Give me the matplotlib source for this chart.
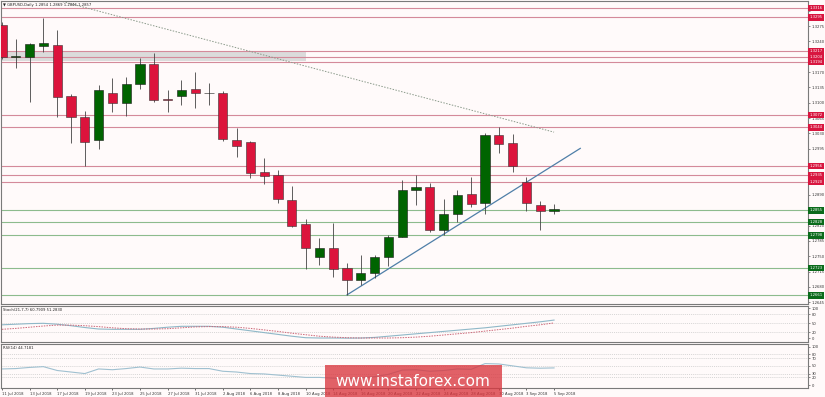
import matplotlib
matplotlib.use('Agg')
import matplotlib.pyplot as plt
import matplotlib.transforms as mtransforms
from matplotlib.patches import Rectangle
import numpy as np

# ---------------- data ----------------
dates = ["11 Jul 2018", "12 Jul 2018", "13 Jul 2018", "16 Jul 2018", "17 Jul 2018",
         "18 Jul 2018", "19 Jul 2018", "20 Jul 2018", "23 Jul 2018", "24 Jul 2018",
         "25 Jul 2018", "26 Jul 2018", "27 Jul 2018", "30 Jul 2018", "31 Jul 2018",
         "1 Aug 2018", "2 Aug 2018", "3 Aug 2018", "6 Aug 2018", "7 Aug 2018",
         "8 Aug 2018", "9 Aug 2018", "10 Aug 2018", "13 Aug 2018", "14 Aug 2018",
         "15 Aug 2018", "16 Aug 2018", "17 Aug 2018", "20 Aug 2018", "21 Aug 2018",
         "22 Aug 2018", "23 Aug 2018", "24 Aug 2018", "27 Aug 2018", "28 Aug 2018",
         "29 Aug 2018", "30 Aug 2018", "31 Aug 2018", "3 Sep 2018", "4 Sep 2018",
         "5 Sep 2018"]

opens  = [1.3277, 1.3205, 1.3205, 1.3230, 1.3232, 1.3115, 1.3067, 1.3014, 1.3122, 1.3099,
          1.3143, 1.3188, 1.3108, 1.3115, 1.3131, 1.3122, 1.3122, 1.3015, 1.3010, 1.2942,
          1.2935, 1.2878, 1.2823, 1.2749, 1.2770, 1.2723, 1.2696, 1.2711, 1.2748, 1.2795,
          1.2900, 1.2907, 1.2811, 1.2846, 1.2891, 1.2871, 1.3026, 1.3009, 1.2919, 1.2868,
          1.2854]
highs  = [1.3284, 1.3245, 1.3237, 1.3293, 1.3267, 1.3120, 1.3082, 1.3140, 1.3156, 1.3159,
          1.3201, 1.3213, 1.3129, 1.3152, 1.3171, 1.3144, 1.3127, 1.3042, 1.3013, 1.2973,
          1.2947, 1.2910, 1.2836, 1.2791, 1.2825, 1.2734, 1.2753, 1.2753, 1.2799, 1.2924,
          1.2935, 1.2916, 1.2880, 1.2901, 1.2930, 1.3032, 1.3045, 1.3029, 1.2931, 1.2876,
          1.2869]
lows   = [1.3200, 1.3180, 1.3102, 1.3216, 1.3068, 1.3009, 1.2956, 1.2994, 1.3080, 1.3070,
          1.3131, 1.3102, 1.3080, 1.3096, 1.3089, 1.3095, 1.3013, 1.2976, 1.2928, 1.2915,
          1.2871, 1.2817, 1.2721, 1.2729, 1.2703, 1.2662, 1.2684, 1.2700, 1.2728, 1.2793,
          1.2868, 1.2805, 1.2798, 1.2829, 1.2862, 1.2846, 1.2985, 1.2943, 1.2854, 1.2810,
          1.2846]
closes = [1.3204, 1.3206, 1.3234, 1.3236, 1.3114, 1.3068, 1.3011, 1.3129, 1.3100, 1.3143,
          1.3188, 1.3106, 1.3106, 1.3129, 1.3122, 1.3123, 1.3017, 1.3001, 1.2940, 1.2932,
          1.2881, 1.2819, 1.2770, 1.2768, 1.2721, 1.2696, 1.2713, 1.2748, 1.2795, 1.2900,
          1.2909, 1.2811, 1.2846, 1.2890, 1.2869, 1.3026, 1.3007, 1.2956, 1.2871, 1.2854,
          1.2857]

stoch_main = [45, 47, 49, 50, 47, 42, 36, 31, 30, 30, 30, 33, 37, 40, 40, 40, 37, 31, 25, 19,
              13, 7, 2, 1, 1, 0.5, 1, 3, 7, 11, 15, 19, 23, 27, 31, 35, 40, 45, 50, 55, 60.79]
stoch_signal = [30, 33, 37, 41, 44, 44, 42, 39, 35, 32, 31, 31, 32, 35, 38, 39, 39, 37, 33, 28,
                23, 17, 12, 7, 4, 2, 1, 1, 1, 2, 4, 7, 11, 15, 19, 24, 29, 34, 40, 45, 51.28]
rsi = [42, 43, 46, 48, 38, 34, 30, 42, 40, 43, 47, 42, 42, 44, 43, 43, 36, 34, 30, 29,
       26, 23, 20, 20, 18, 17, 19, 22, 28, 39, 40, 36, 38, 42, 41, 56, 55, 50, 45, 44, 44.72]

red_levels = [1.3316, 1.3295, 1.3217, 1.3204, 1.3194, 1.3072, 1.3044, 1.2956, 1.2935, 1.2920]
green_levels = [1.2855, 1.2828, 1.2798, 1.2723, 1.2661]
zone_levels = [1.3195, 1.3217]
zone_end_bar = 22

trend_points_x = [25, 41.9]
trend_points_y = [1.2662, 1.2996]
dotted_points_x = [4, 40]
dotted_points_y = [1.3334, 1.3033]

price_ticks = [1.2645 + 0.0035 * k for k in range(20)]
stoch_ticks = [0, 20, 50, 80, 100]
rsi_ticks = [0, 20, 30, 50, 70, 80, 100]

title_text = "GBPUSD,Daily 1.2854 1.2869 1.2846 1.2857"
stoch_title = "Stoch(21,7,7) 60.7909 51.2830"
rsi_title = "RSI(14) 44.7181"

# ---------------- figure ----------------
W, H = 825, 397
BG = '#fffafa'
fig = plt.figure(figsize=(W / 100, H / 100), dpi=100, facecolor=BG)

def fa(x0, y0, x1, y1):
    return [x0 / W, 1 - y1 / H, (x1 - x0) / W, (y1 - y0) / H]

ax = fig.add_axes(fa(1, 1, 808, 304), facecolor=BG)
ax_s = fig.add_axes(fa(1, 306, 808, 342), facecolor=BG)
ax_r = fig.add_axes(fa(1, 344, 808, 388), facecolor=BG)

FS = 2.7
x = np.arange(len(dates))
xlim = (-0.07, 58.4)

for a in (ax, ax_s, ax_r):
    a.set_xlim(*xlim)
    for s in a.spines.values():
        s.set_color('#7a7a7a')
        s.set_linewidth(0.8)
    a.yaxis.tick_right()
    a.tick_params(axis='y', labelsize=FS, length=1.5, width=0.4, pad=1,
                  colors='#333333')
    a.tick_params(axis='x', length=0)

# main panel
all_levels = red_levels + green_levels
ax.set_ylim(1.26412, 1.33320)
ax.set_yticks(price_ticks)
ax.set_yticklabels([f"{t:.4f}" if min(abs(t - lv) for lv in all_levels) > 0.00065 else ""
                    for t in price_ticks])
ax.set_xticks([])

# zone
ax.add_patch(Rectangle((-1, zone_levels[0]), zone_end_bar + 1, zone_levels[1] - zone_levels[0],
                       facecolor='#d8d8d8', edgecolor='none', alpha=0.9, zorder=0.5))

for lv in red_levels:
    ax.axhline(lv, color='#d48a9a', lw=0.8, zorder=0.8)
for lv in green_levels:
    ax.axhline(lv, color='#8dbb8d', lw=0.8, zorder=0.8)

# dotted line & trendline
ax.plot(dotted_points_x, dotted_points_y, color='#8a9a8a', lw=0.7, ls=(0, (1.5, 1.5)), zorder=1)
ax.plot(trend_points_x, trend_points_y, color='#4f7fa8', lw=0.9, zorder=1.2)

# candles
o = np.array(opens); h = np.array(highs); l = np.array(lows); c = np.array(closes)
up = c >= o
ax.vlines(x, l, h, color='#444444', lw=0.6, zorder=2)
body_bottom = np.minimum(o, c)
body_h = np.maximum(np.abs(c - o), 0.00005)
ax.bar(x[up], body_h[up], bottom=body_bottom[up], width=0.66, color='#006400',
       edgecolor='#1a1a1a', linewidth=0.4, zorder=3)
ax.bar(x[~up], body_h[~up], bottom=body_bottom[~up], width=0.66, color='#dc143c',
       edgecolor='#333333', linewidth=0.4, zorder=3)

# level labels on the right
tr = mtransforms.blended_transform_factory(ax.transAxes, ax.transData)
for lv in red_levels:
    ax.text(1.0015, lv, f"{lv:.4f}", transform=tr, fontsize=FS, color='white',
            va='center', ha='left', clip_on=False, zorder=10,
            bbox=dict(boxstyle='square,pad=0.35', fc='#d8163f', ec='none'))
for lv in green_levels:
    ax.text(1.0015, lv, f"{lv:.4f}", transform=tr, fontsize=FS, color='white',
            va='center', ha='left', clip_on=False, zorder=10,
            bbox=dict(boxstyle='square,pad=0.35', fc='#0b6b1b', ec='none'))

ax.text(0.002, 0.993, "\u25bc " + title_text, transform=ax.transAxes, fontsize=FS,
        va='top', ha='left', color='#222222')

# stochastic
ax_s.set_ylim(-12.3, 107.7)
ax_s.set_yticks(stoch_ticks)
ax_s.set_yticklabels([str(t) for t in stoch_ticks])
ax_s.set_xticks([])
for lv in [80, 50, 20]:
    ax_s.axhline(lv, color='#c8c8c8', lw=0.5, ls=(0, (1.5, 1.5)))
ax_s.plot(x, stoch_main, color='#8fb8c8', lw=0.8)
ax_s.plot(x, stoch_signal, color='#cc6677', lw=0.7, ls=(0, (1.5, 1.2)))
ax_s.text(0.003, 0.95, stoch_title, transform=ax_s.transAxes, fontsize=FS,
          va='top', ha='left', color='#222222')

# RSI
ax_r.set_ylim(-7.6, 107)
ax_r.set_yticks(rsi_ticks)
ax_r.set_yticklabels([str(t) for t in rsi_ticks])
for lv in [80, 70, 50, 30, 20]:
    ax_r.axhline(lv, color='#c8c8c8', lw=0.5, ls=(0, (1.5, 1.5)))
ax_r.plot(x, rsi, color='#9fc0d0', lw=0.8)
ax_r.text(0.003, 0.95, rsi_title, transform=ax_r.transAxes, fontsize=FS,
          va='top', ha='left', color='#222222')
ax_r.set_xticks(x[::2])
ax_r.set_xticklabels(dates[::2], fontsize=FS, ha='left', color='#333333')
ax_r.tick_params(axis='x', length=1.5, width=0.4, pad=1.5)

# watermark
fig.patches.append(Rectangle((325 / W, 0), 177 / W, 32 / H, transform=fig.transFigure,
                             facecolor='#d9363e', alpha=0.78, edgecolor='none', zorder=20))
fig.text(413 / W, 1 - 381 / H, "www.instaforex.com", fontsize=11, color='white',
         ha='center', va='center', zorder=21)

fig.savefig('out.png', dpi=100, facecolor=BG)
